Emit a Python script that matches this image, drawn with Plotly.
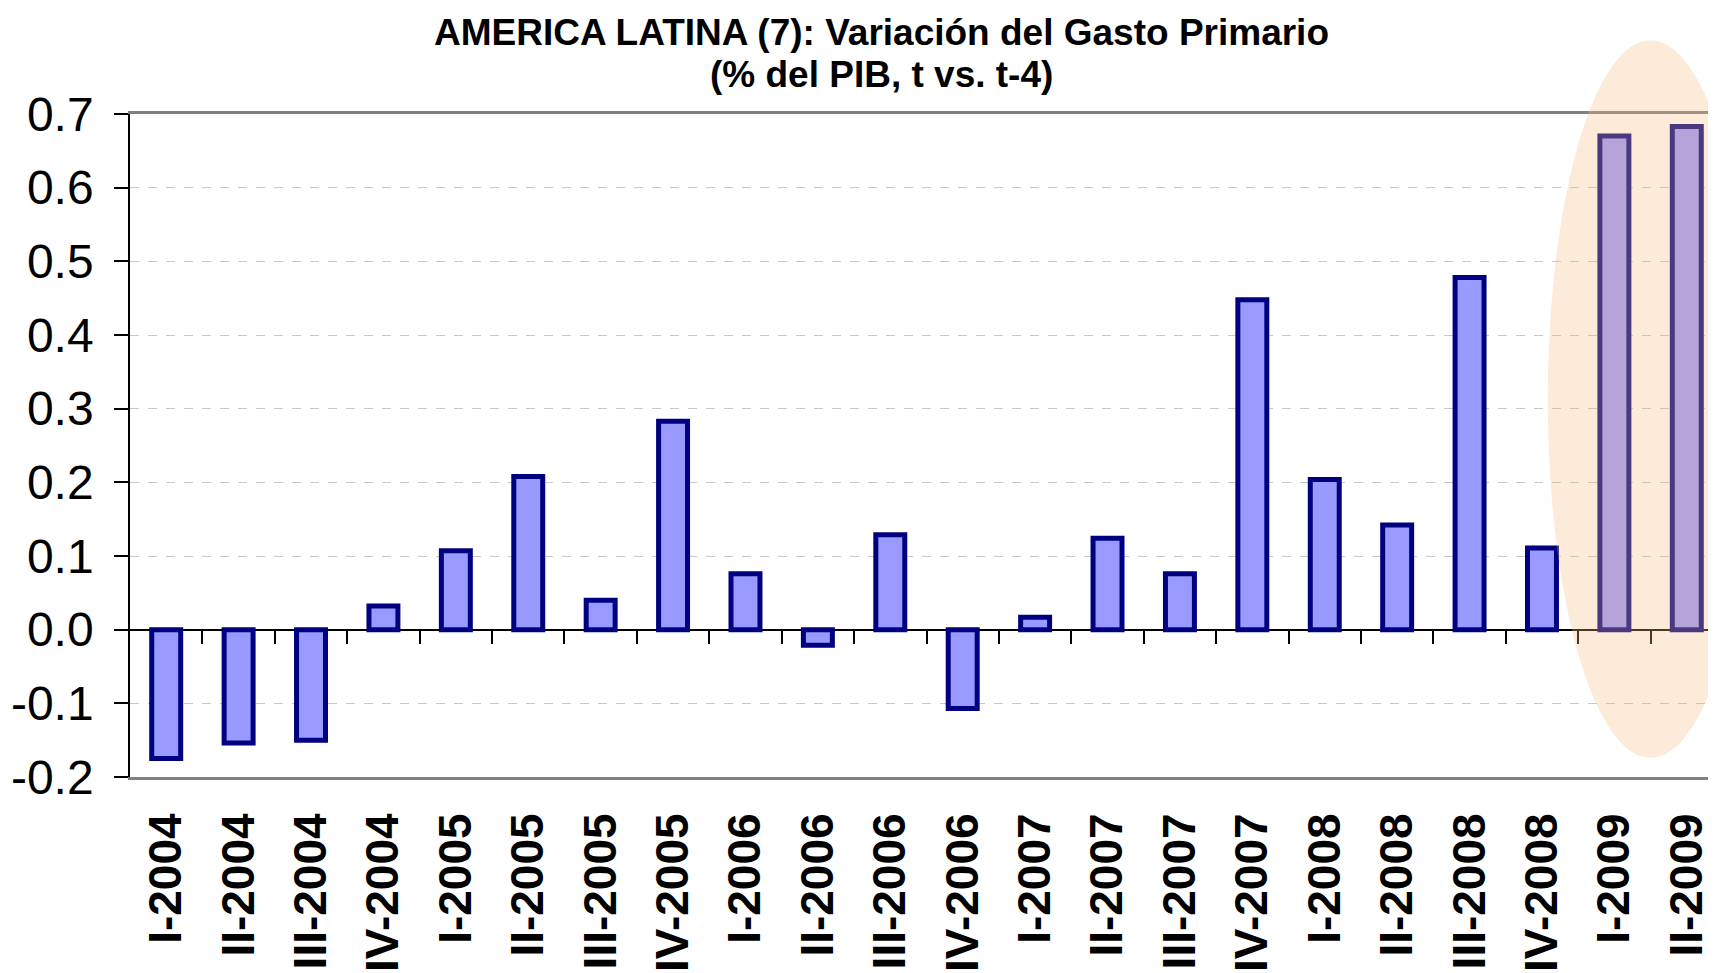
import plotly.graph_objects as go

# Data
quarters = ["I-2004", "II-2004", "III-2004", "IV-2004",
            "I-2005", "II-2005", "III-2005", "IV-2005",
            "I-2006", "II-2006", "III-2006", "IV-2006",
            "I-2007", "II-2007", "III-2007", "IV-2007",
            "I-2008", "II-2008", "III-2008", "IV-2008",
            "I-2009", "II-2009"]
gasto_var = [-0.175, -0.154, -0.150, 0.032,
             0.107, 0.208, 0.040, 0.283,
             0.076, -0.021, 0.129, -0.107,
             0.017, 0.124, 0.076, 0.448,
             0.204, 0.142, 0.478, 0.111,
             0.670, 0.683]
y_ticks = [-0.2, -0.1, 0.0, 0.1, 0.2, 0.3, 0.4, 0.5, 0.6, 0.7]
title_lines = ["AMERICA LATINA (7): Variación del Gasto Primario",
               "(% del PIB, t vs. t-4)"]

Y_MIN, Y_MAX = -0.2, 0.7
n = len(quarters)
W, H = 1716, 973
PAD = 8  # default body margin of the html page
M_L, M_R, M_T, M_B = 130 - PAD, 1, 114 - PAD, 196 + PAD
plot_h = H - M_T - M_B
plot_w = W - M_L - M_R

fig = go.Figure()

fig.add_trace(go.Bar(
    x=quarters,
    y=gasto_var,
    width=0.4,
    marker_color="#9999FF",
    marker_line_color="#000080",
    marker_line_width=5,
    hovertemplate="%{x}: %{y:.2f}<extra></extra>",
    showlegend=False,
))

# invisible helper trace so the boundary-tick axis on the zero line is drawn
fig.add_trace(go.Scatter(
    x=list(range(n)), y=gasto_var, xaxis="x2",
    mode="markers", marker=dict(opacity=0),
    hoverinfo="skip", showlegend=False,
))

# highlight ellipse around the 2009 quarters (data units -> paper)
ell_cx, ell_half_w = 20.5, 1.42
ell_y0, ell_y1 = -0.174, 0.80
fig.add_shape(
    type="circle", xref="paper", yref="paper",
    x0=(ell_cx - ell_half_w + 0.5) / n, x1=(ell_cx + ell_half_w + 0.5) / n,
    y0=(ell_y0 - Y_MIN) / (Y_MAX - Y_MIN), y1=(ell_y1 - Y_MIN) / (Y_MAX - Y_MIN),
    fillcolor="rgb(250,190,130)", opacity=0.3,
    line=dict(width=0), layer="above",
)

# two title lines as annotations (screen pixel row -> paper y)
for txt, row in zip(title_lines, [32, 74]):
    fig.add_annotation(
        text=f"<b>{txt}</b>", showarrow=False,
        xref="paper", yref="paper",
        x=(881 - PAD - M_L) / plot_w, xanchor="center",
        y=(H - M_B - (row - PAD)) / plot_h, yanchor="middle",
        font=dict(family="Liberation Sans, Arial", size=37, color="black"),
    )

fig.update_layout(
    width=W, height=H,
    margin=dict(l=M_L, r=M_R, t=M_T, b=M_B, autoexpand=False),
    paper_bgcolor="white", plot_bgcolor="white",
    bargap=0.6,
    font=dict(family="Liberation Sans, Arial", color="black"),
    xaxis=dict(
        type="category", automargin=False,
        showline=True, linecolor="#808080", linewidth=3, mirror=True,
        ticks="", showgrid=False, zeroline=False,
        tickangle=-90, ticklabelstandoff=15,
        tickfont=dict(size=46, weight="bold", color="black"),
    ),
    xaxis2=dict(
        overlaying="x", anchor="free", side="bottom", automargin=False,
        position=(0 - Y_MIN) / (Y_MAX - Y_MIN),
        range=[-0.5, n - 0.5],
        tickmode="array", tickvals=[i + 0.5 for i in range(n - 1)],
        ticks="outside", ticklen=13, tickwidth=1.5, tickcolor="black",
        showticklabels=False, showgrid=False, zeroline=False, showline=False,
    ),
    yaxis=dict(
        range=[Y_MIN, Y_MAX], automargin=False,
        tickmode="array", tickvals=y_ticks,
        ticktext=[f"{v:.1f}" for v in y_ticks],
        ticks="outside", ticklen=14, tickwidth=1.5, tickcolor="black",
        ticklabelstandoff=11,
        tickfont=dict(size=48, color="black"),
        showline=True, linecolor="black", linewidth=1.5,
        showgrid=True, gridcolor="#C8C8C8", griddash="dash", gridwidth=1,
        zeroline=True, zerolinecolor="black", zerolinewidth=2,
    ),
)

fig.write_html("out.html")
